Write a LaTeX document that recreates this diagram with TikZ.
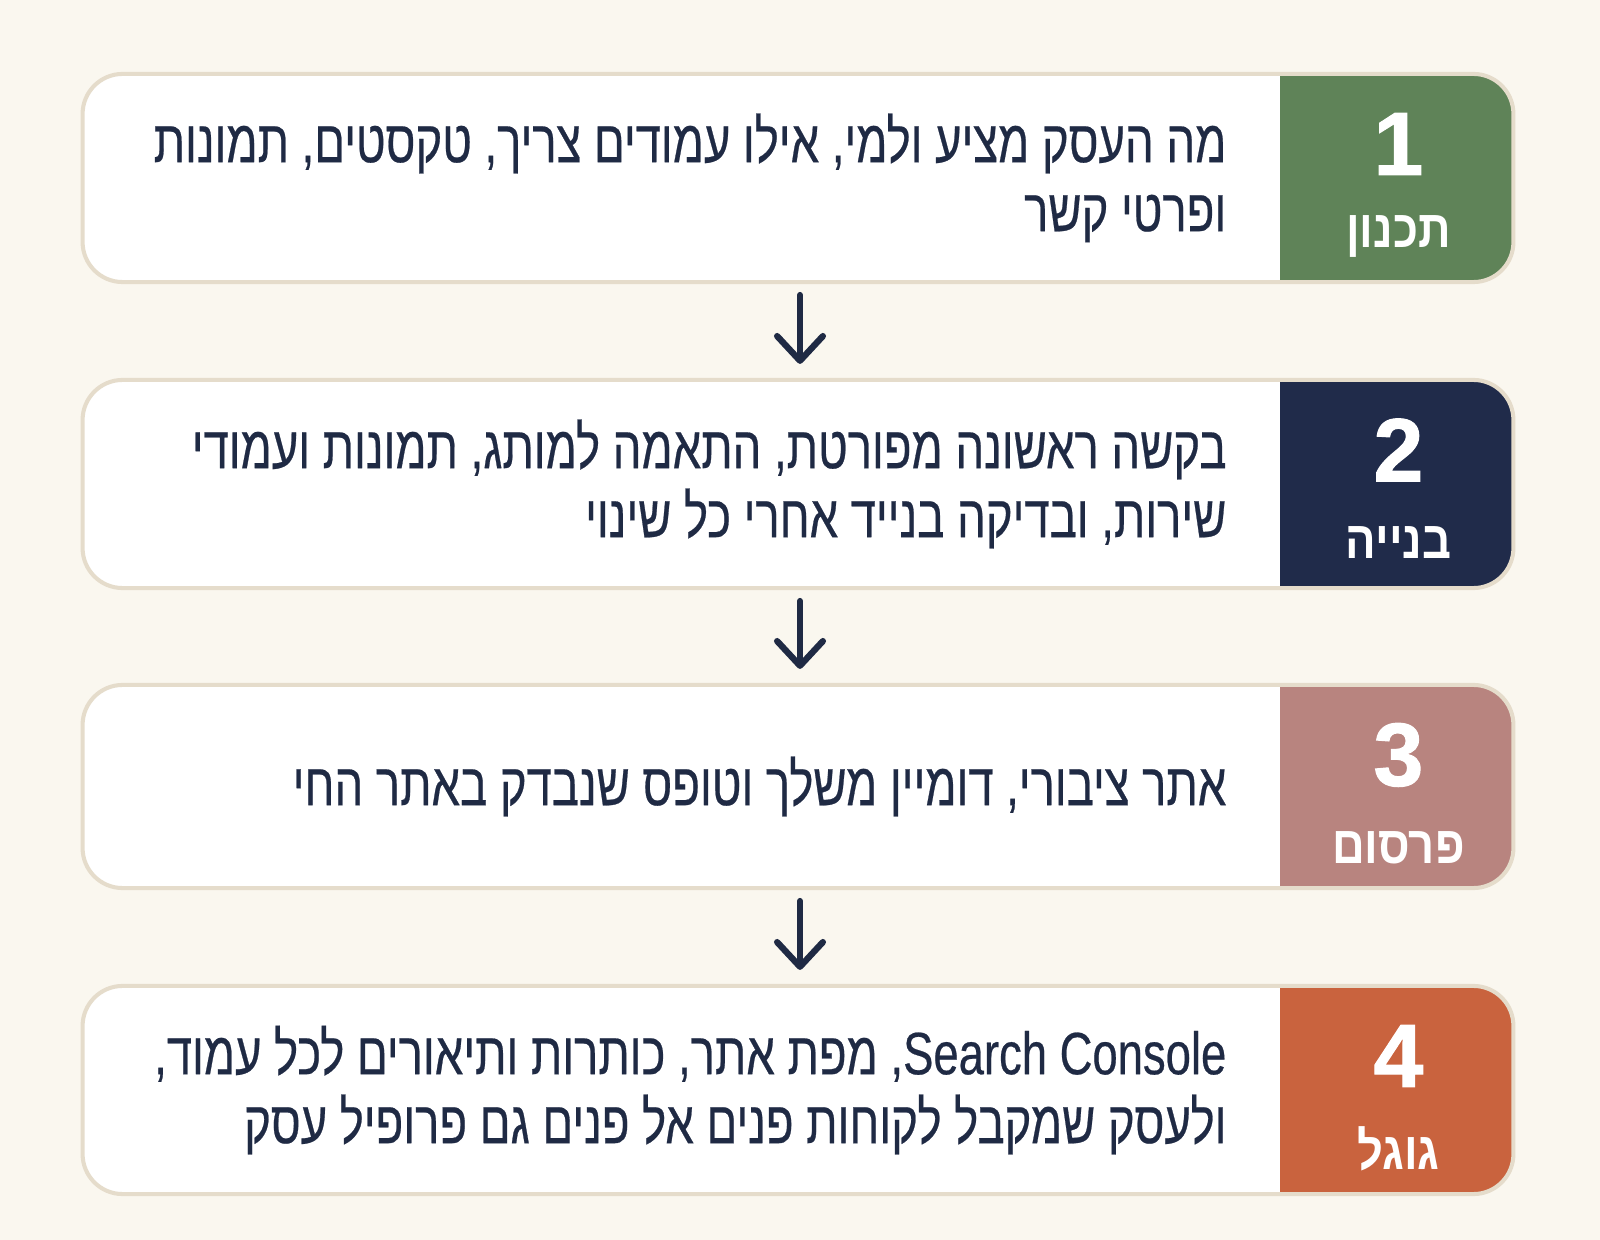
\documentclass[tikz,border=0pt]{standalone}
\usepackage{fontspec}
\setmainfont{Liberation Sans}
\newfontfamily\hebfont[Script=Hebrew,FakeStretch=0.76,FakeBold=0.4]{Liberation Sans}
\newfontfamily\heblabelfont[Script=Hebrew,FakeStretch=0.86]{Liberation Sans}
\newfontfamily\numfont[FakeBold=1.2]{Liberation Sans}
\TeXXeTstate=1
\usepackage{xcolor}
\usetikzlibrary{calc}
\usetikzlibrary{positioning}
\usetikzlibrary{arrows.meta}

\definecolor{bgcream}{HTML}{FAF7EF}
\definecolor{cardline}{HTML}{E5DCCB}
\definecolor{inkblue}{HTML}{1F2A44}
\definecolor{planGreen}{HTML}{5F8358}
\definecolor{buildNavy}{HTML}{202B4A}
\definecolor{launchRose}{HTML}{B8847F}
\definecolor{googleRust}{HTML}{C9633E}

\begin{document}
\begin{tikzpicture}[x=0.01cm,y=-0.01cm,
  card/.style={draw=cardline, line width=1.15pt, fill=white, rounded corners=0.4cm, minimum width=14.3cm, inner sep=0pt},
  stepnum/.style={text=white, inner sep=0pt, font=\numfont\bfseries\fontsize{25.5}{25.5}\selectfont},
  steplabel/.style={text=white, inner sep=0pt, font=\heblabelfont\bfseries\fontsize{15}{15}\selectfont},
  bodytext/.style={text=inkblue, align=right, inner sep=0pt, anchor=east, font=\hebfont\fontsize{17}{19.6}\selectfont},
  flow/.style={draw=inkblue, line width=1.8pt, line cap=round, -{Straight Barb[length=7pt,width=13pt,round]}, shorten <=0.11cm, shorten >=0.14cm}]
\useasboundingbox (0,0) rectangle (1600,1240);
\fill[bgcream] (0,0) rectangle (1600,1240);

% cards with coloured step panel
\foreach \n/\y/\h/\col/\lab in {1/178/2.08/planGreen/תכנון, 2/484/2.08/buildNavy/בנייה, 3/786.5/2.03/launchRose/פרסום, 4/1090/2.08/googleRust/גוגל}
{
	\node[card, minimum height=\h cm, path picture={\fill[\col, sharp corners] ([xshift=-2.33cm]path picture bounding box.north east) rectangle (path picture bounding box.south east);}] (card\n) at (798,\y) {};
	\node[stepnum] (num\n) at ($(card\n.north east)+(-117,72)$) {\n};
	\node[steplabel] (lab\n) at ($(card\n.north east)+(-117,165)$) {\beginR\lab\endR};
}

\node[bodytext] (text1) at ($(card1.center)+(429,0)$) {\beginR מה העסק מציע ולמי, אילו עמודים צריך, טקסטים, תמונות\endR\\ \beginR ופרטי קשר\endR};
\node[bodytext] (text2) at ($(card2.center)+(429,0)$) {\beginR בקשה ראשונה מפורטת, התאמה למותג, תמונות ועמודי\endR\\ \beginR שירות, ובדיקה בנייד אחרי כל שינוי\endR};
\node[bodytext] (text3) at ($(card3.center)+(429,0)$) {\beginR אתר ציבורי, דומיין משלך וטופס שנבדק באתר החי\endR};
\node[bodytext] (text4) at ($(card4.center)+(429,0)$) {\beginR\beginL Search Console\endL, מפת אתר, כותרות ותיאורים לכל עמוד,\endR\\ \beginR ולעסק שמקבל לקוחות פנים אל פנים גם פרופיל עסק\endR};

\foreach \a/\b in {1/2,2/3,3/4}
{
	\draw[flow] ([xshift=0.02cm]card\a.south) -- ([xshift=0.02cm]card\b.north);
}
\end{tikzpicture}
\end{document}
